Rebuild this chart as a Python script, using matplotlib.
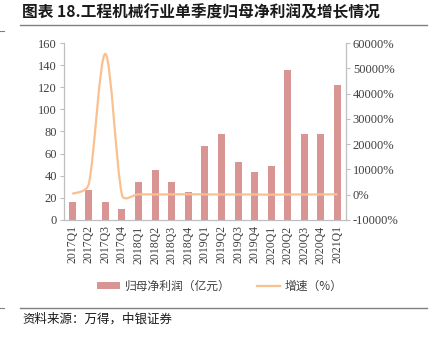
import numpy as np
import matplotlib
matplotlib.use("Agg")
import matplotlib.pyplot as plt
from matplotlib.path import Path
from matplotlib.patches import PathPatch, Patch
from matplotlib.lines import Line2D
from matplotlib.ticker import FuncFormatter

quarters = ["2017Q1", "2017Q2", "2017Q3", "2017Q4",
            "2018Q1", "2018Q2", "2018Q3", "2018Q4",
            "2019Q1", "2019Q2", "2019Q3", "2019Q4",
            "2020Q1", "2020Q2", "2020Q3", "2020Q4", "2021Q1"]
profit = [16, 27, 16, 10, 34, 45, 34, 25, 67, 78, 52, 43, 49, 136, 78, 78, 122]
growth = [300, 4300, 55700, -100, 110, 67, 112, 150, 97, 73, 53, 72,
          -27, 74, 50, 81, 149]

cjk = ["Noto Sans CJK SC", "DejaVu Sans"]
serif = "Liberation Serif"
bar_color = "#d99594"
line_color = "#fac090"
grey = "#bfbfbf"
txt = "#404040"

fig = plt.figure(figsize=(4.35, 3.42), dpi=100)
ax = fig.add_axes([0.147, 0.357, 0.648, 0.517])
ax2 = ax.twinx()

x = np.arange(len(quarters))
ax.bar(x, profit, width=0.42, color=bar_color, zorder=2)
ax.set_xlim(-0.5, len(quarters) - 0.5)
ax.set_ylim(0, 160)
ax.set_yticks(range(0, 161, 20))
ax.set_xticks(x)
ax.set_xticklabels(quarters, rotation=90, fontfamily=serif, fontsize=8.5, color=txt)
ax.tick_params(axis="x", length=0, pad=4)
ax.tick_params(axis="y", length=3, color=grey, labelsize=9, labelcolor=txt, pad=2)
for lab in ax.get_yticklabels():
    lab.set_fontfamily(serif)

ax2.set_ylim(-10000, 60000)
ax2.set_yticks(range(-10000, 60001, 10000))
ax2.yaxis.set_major_formatter(FuncFormatter(lambda v, p: f"{int(v)}%"))
ax2.tick_params(axis="y", length=3, color=grey, labelsize=9, labelcolor=txt, pad=2)
for lab in ax2.get_yticklabels():
    lab.set_fontfamily(serif)

for a in (ax, ax2):
    a.spines["top"].set_visible(False)
    for s in ("left", "right", "bottom"):
        a.spines[s].set_color(grey)
        a.spines[s].set_linewidth(0.8)

# smoothed growth line: bezier through the data points, Excel-style control points
fig.canvas.draw()
pts = ax2.transData.transform(np.column_stack([x, growth]))
n = len(pts)
verts = [pts[0]]
codes = [Path.MOVETO]
for i in range(n - 1):
    p0 = pts[max(i - 1, 0)]
    p1 = pts[i]
    p2 = pts[i + 1]
    p3 = pts[min(i + 2, n - 1)]
    d12 = np.hypot(*(p2 - p1))
    d02 = np.hypot(*(p2 - p0))
    d13 = np.hypot(*(p3 - p1))
    f1 = 1 / 6 if d02 / 6 < d12 / 2 else d12 / (2 * d02)
    f2 = 1 / 6 if d13 / 6 < d12 / 2 else d12 / (2 * d13)
    c1 = p1 + (p2 - p0) * f1
    c2 = p2 - (p3 - p1) * f2
    verts += [c1, c2, p2]
    codes += [Path.CURVE4] * 3
verts = ax2.transData.inverted().transform(np.array(verts))
ax2.add_patch(PathPatch(Path(verts, codes), fill=False, edgecolor=line_color,
                        linewidth=1.6, zorder=3))

# title, rules, legend, source
fig.text(22 / 435, 1 - 12 / 342, "图表 18.工程机械行业单季度归母净利润及增长情况",
         fontfamily=cjk, fontsize=11.3, fontweight="bold", va="center", ha="left",
         color="#1a1a1a")
fig.add_artist(Line2D([20 / 435, 427 / 435], [1 - 25 / 342] * 2, color="#808080", lw=1))
fig.add_artist(Line2D([0, 4 / 435], [1 - 31 / 342] * 2, color="#808080", lw=0.8))
fig.add_artist(Line2D([20 / 435, 427 / 435], [1 - 308 / 342] * 2, color="#808080", lw=1))
fig.add_artist(Line2D([0, 4 / 435], [1 - 308 / 342] * 2, color="#808080", lw=0.8))

handles = [Patch(facecolor=bar_color, edgecolor="none"),
           Line2D([], [], color=line_color, lw=1.6)]
fig.legend(handles, ["归母净利润（亿元）", "增速（%）"], loc="center",
           bbox_to_anchor=(0.505, 1 - 286 / 342), ncol=2, frameon=False,
           prop={"family": cjk, "size": 8.5}, handlelength=2.0, handleheight=0.5,
           handletextpad=0.4, columnspacing=2.2, labelcolor=txt)

fig.text(22 / 435, 1 - 319 / 342, "资料来源：万得，中银证券", fontfamily=cjk,
         fontsize=9, style="italic", va="center", ha="left", color="#1a1a1a")

fig.savefig("out.png", dpi=100)
